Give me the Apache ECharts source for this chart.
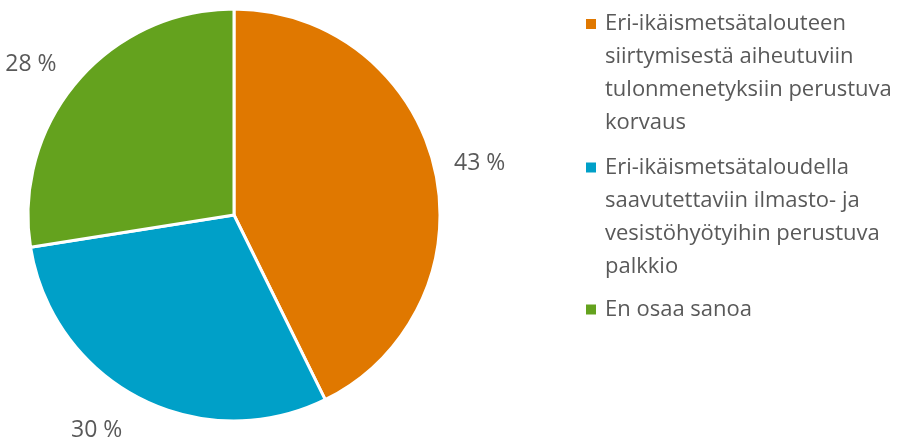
<!DOCTYPE html>
<html>
<head>
<meta charset="utf-8">
<script src="https://cdn.jsdelivr.net/npm/echarts@6/dist/echarts.min.js"></script>
<style>html,body{margin:0;padding:0;background:#fff}#c{width:900px;height:441px}</style>
</head>
<body>
<div id="c"></div>
<script>
var categories = [
  'Eri-ikäismetsätalouteen siirtymisestä aiheutuviin tulonmenetyksiin perustuva korvaus',
  'Eri-ikäismetsätaloudella saavutettaviin ilmasto- ja vesistöhyötyihin perustuva palkkio',
  'En osaa sanoa'
];
var legendLines = [
  ['Eri-ikäismetsätalouteen', 'siirtymisestä aiheutuviin', 'tulonmenetyksiin perustuva', 'korvaus'],
  ['Eri-ikäismetsätaloudella', 'saavutettaviin ilmasto- ja', 'vesistöhyötyihin perustuva', 'palkkio'],
  ['En osaa sanoa']
];
var values = [42.7, 29.8, 27.5];
var valueLabels = ['43 %', '30 %', '28 %'];
var colors = ['#E07800', '#00A0C8', '#64A21E'];

// per-slice label placement tweaks (styles, not data)
var labelLineLen = [20, 37, 26];
var labelGap = [0, 0, 1];

var FONT = '"Open Sans", "Noto Sans", sans-serif';
var LH = 33;
var legendIconCenters = [24, 167.5, 309.5];

var chart = echarts.init(document.getElementById('c'), null, {renderer: 'canvas'});

var pieData = categories.map(function (n, i) {
  return {
    name: n,
    value: values[i],
    itemStyle: {color: colors[i]},
    label: {distanceToLabelLine: labelGap[i]},
    labelLine: {length: labelLineLen[i]}
  };
});

var legends = categories.map(function (n, i) {
  var lines = legendLines[i].length;
  var half = (lines - 0.5) * LH;
  return {
    orient: 'vertical',
    left: 586,
    top: legendIconCenters[i] - half,
    padding: 0,
    itemWidth: 10,
    itemHeight: 10,
    icon: 'rect',
    itemStyle: {borderWidth: 0},
    selectedMode: false,
    data: [n],
    formatter: function (name) {
      var ls = legendLines[categories.indexOf(name)];
      var pad = [];
      for (var k = 1; k < ls.length; k++) pad.push('');
      return pad.concat(ls).join('\n');
    },
    textStyle: {fontFamily: FONT, fontSize: 22, color: '#595959', lineHeight: LH, padding: [0, 0, 0, 4]}
  };
});

chart.setOption({
  animation: false,
  backgroundColor: '#fff',
  legend: legends,
  series: [
    {
      type: 'pie',
      center: [234, 215],
      radius: [0, 206],
      startAngle: 90,
      clockwise: true,
      silent: true,
      avoidLabelOverlap: false,
      itemStyle: {borderColor: '#fff', borderWidth: 3},
      labelLine: {show: false, length: 20, length2: 0},
      label: {
        show: true,
        position: 'outside',
        distanceToLabelLine: 5,
        formatter: function (p) { return valueLabels[p.dataIndex]; },
        fontFamily: FONT,
        fontSize: 23,
        color: '#595959'
      },
      data: pieData
    }
  ]
});
</script>
</body>
</html>
